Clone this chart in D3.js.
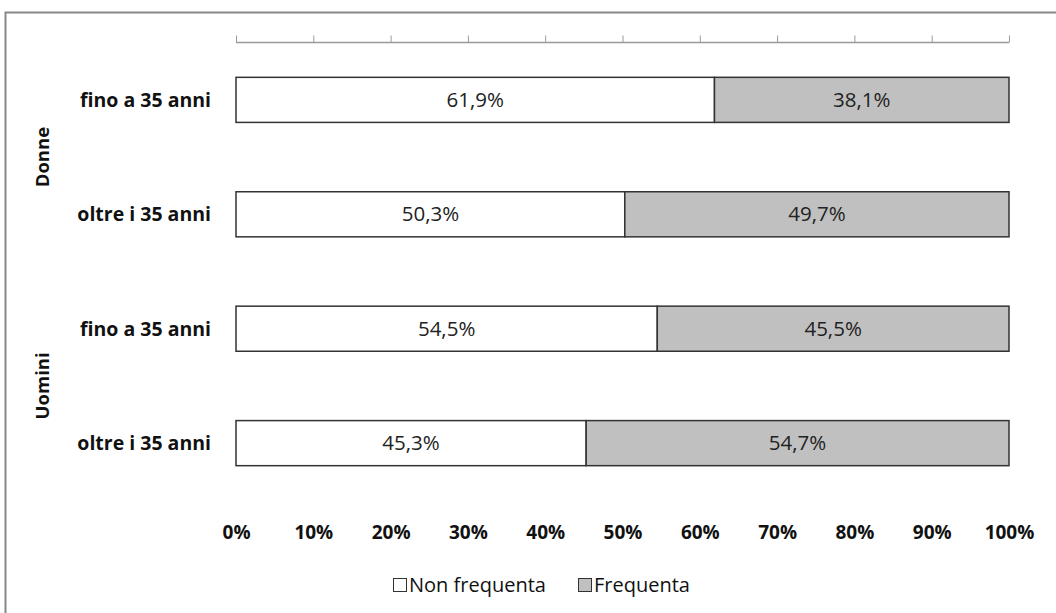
<!DOCTYPE html>
<html><head><meta charset="utf-8">
<script src="https://cdn.jsdelivr.net/npm/d3@7"></script>
<style>
html,body{margin:0;padding:0;background:#fff;}
svg{display:block;font-family:"Open Sans",sans-serif;}
</style></head>
<body>
<svg id="chart" width="1056" height="613"></svg>
<script>
const groups = ["Donne", "Donne", "Uomini", "Uomini"];
const categories = ["fino a 35 anni", "oltre i 35 anni", "fino a 35 anni", "oltre i 35 anni"];
const nonFrequenta = [61.9, 50.3, 54.5, 45.3];
const frequenta = [38.1, 49.7, 45.5, 54.7];
const seriesNames = ["Non frequenta", "Frequenta"];
const tickValues = [0,10,20,30,40,50,60,70,80,90,100];

const svg = d3.select("#chart");
// outer frame
svg.append("rect").attr("x",5.5).attr("y",12.5).attr("width",1100).attr("height",700)
  .attr("fill","none").attr("stroke","#888").attr("stroke-width",2);

const x = d3.scaleLinear().domain([0,100]).range([236,1009]);
const rows = d3.range(categories.length);
const y = d3.scaleBand().domain(rows).range([43,500]).paddingInner(0.606).paddingOuter(0.3);

// top axis
const axTop = svg.append("g").attr("transform","translate(0,42.5)")
  .call(d3.axisTop(x).tickValues(tickValues).tickSize(7).tickFormat(""));
axTop.select(".domain").attr("stroke","#999").attr("stroke-width",1.5).attr("d","M236,0H1009");
axTop.selectAll(".tick line").attr("stroke","#999").attr("stroke-width",1);

// bottom labels
const axBot = svg.append("g").attr("transform","translate(0,532)")
  .call(d3.axisBottom(x).tickValues(tickValues).tickSize(0).tickPadding(0).tickFormat(d=>d+"%"));
axBot.select(".domain").remove();
axBot.selectAll("text").attr("font-family","'Open Sans',sans-serif").attr("font-size",19)
  .attr("font-weight","bold").attr("fill","#111").attr("y",0).attr("dy","0.35em");

const fmt = v => v.toFixed(1).replace(".", ",") + "%";
const stacks = rows.map(i => [
  {s:0, x0:0, x1:nonFrequenta[i], v:nonFrequenta[i], row:i},
  {s:1, x0:nonFrequenta[i], x1:nonFrequenta[i]+frequenta[i], v:frequenta[i], row:i}
]).flat();
const fills = ["#ffffff", "#c0c0c0"];

svg.append("g").selectAll("rect").data(stacks).join("rect")
  .attr("x", d=>x(d.x0)).attr("y", d=>y(d.row))
  .attr("width", d=>x(d.x1)-x(d.x0)).attr("height", y.bandwidth())
  .attr("fill", d=>fills[d.s]).attr("stroke","#333").attr("stroke-width",1.5);

svg.append("g").selectAll("text").data(stacks).join("text")
  .attr("x", d=>(x(d.x0)+x(d.x1))/2).attr("y", d=>y(d.row)+y.bandwidth()/2)
  .attr("text-anchor","middle").attr("dy","0.35em")
  .attr("font-size",20.5).attr("fill","#222").text(d=>fmt(d.v));

// category labels
svg.append("g").selectAll("text").data(rows).join("text")
  .attr("x",211).attr("y", i=>y(i)+y.bandwidth()/2).attr("dy","0.35em")
  .attr("text-anchor","end").attr("font-size",19.5).attr("font-weight","bold").attr("fill","#111")
  .text(i=>categories[i]);

// group labels
const groupNames = Array.from(new Set(groups));
groupNames.forEach(g => {
  const idx = rows.filter(i=>groups[i]===g);
  const cy = d3.mean(idx, i=>y(i)+y.bandwidth()/2);
  svg.append("text").attr("transform",`translate(43,${cy}) rotate(-90)`)
    .attr("text-anchor","middle").attr("dy","0.35em")
    .attr("font-size",18.5).attr("font-weight","bold").attr("fill","#111").text(g);
});

// legend
const leg = svg.append("g").attr("transform","translate(0,585)");
const legX = [393, 578];
seriesNames.forEach((n,i)=>{
  leg.append("rect").attr("x",legX[i]+0.5).attr("y",-6.5).attr("width",13).attr("height",13)
    .attr("fill",fills[i]).attr("stroke","#333").attr("stroke-width",1);
  leg.append("text").attr("x",legX[i]+16).attr("y",0).attr("dy","0.35em")
    .attr("font-size",20).attr("fill","#111").text(n);
});
</script>
</body></html>
